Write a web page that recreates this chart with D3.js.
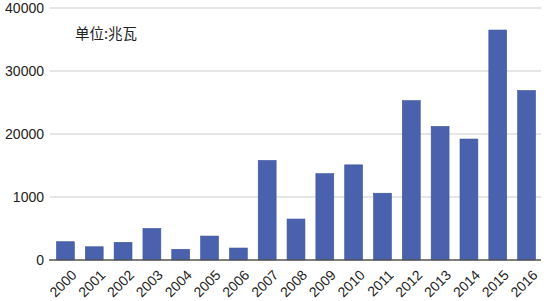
<!DOCTYPE html>
<html>
<head>
<meta charset="utf-8">
<script src="https://cdn.jsdelivr.net/npm/d3@7"></script>
<style>
  body { margin: 0; background: #fff; }
  text { font-family: "Liberation Sans", Arial, sans-serif; fill: #222; }
</style>
</head>
<body>
<svg width="550" height="301"></svg>
<script>
// years and installed capacity (MW)
var years = ["2000","2001","2002","2003","2004","2005","2006","2007","2008",
             "2009","2010","2011","2012","2013","2014","2015","2016"];
var capacity = [2900, 2100, 2800, 5000, 1700, 3800, 1900, 15800, 6500,
                13700, 15100, 10600, 25300, 21200, 19200, 36500, 26900];
var tickValues = [0, 10000, 20000, 30000, 40000];
var tickLabels = ["0", "1000", "20000", "30000", "40000"];
var unitLabel = "单位:兆瓦";

var svg = d3.select("svg"),
    margin = {top: 8, right: 9, bottom: 41, left: 51},
    width = svg.attr("width") - margin.left - margin.right,
    height = svg.attr("height") - margin.top - margin.bottom,
    g = svg.append("g").attr("transform", "translate(" + margin.left + "," + margin.top + ")");

var x = d3.scaleBand().domain(years).range([0, width]).paddingInner(0.38).paddingOuter(0.19),
    y = d3.scaleLinear().domain([0, 40000]).range([height, 0]);

//gridlines
g.selectAll(".grid")
    .data(tickValues.slice(1))
    .enter().append("line")
    .attr("x1", -1).attr("x2", width)
    .attr("y1", function(d) { return y(d); })
    .attr("y2", function(d) { return y(d); })
    .attr("stroke", "#dcdcdc")
    .attr("stroke-width", 1.3);

//y axis labels
var yAxis = g.append("g")
    .call(d3.axisLeft(y).tickValues(tickValues).tickSize(0).tickPadding(7)
      .tickFormat(function(d, i) { return tickLabels[i]; }));
yAxis.select(".domain").remove();
yAxis.selectAll("text").style("font-size", "14px").attr("fill", "#222");

//bars
g.selectAll(".bar")
    .data(capacity)
    .enter().append("rect")
    .attr("x", function(d, i) { return x(years[i]); })
    .attr("y", function(d) { return y(d); })
    .attr("width", x.bandwidth())
    .attr("height", function(d) { return height - y(d); })
    .attr("fill", "#4a61ad")
    .attr("stroke", "#3d5298")
    .attr("stroke-width", 0.6);

//baseline
g.append("line")
    .attr("x1", -2).attr("x2", width)
    .attr("y1", y(0)).attr("y2", y(0))
    .attr("stroke", "#555")
    .attr("stroke-width", 1.3);

//x axis labels
var xAxis = g.append("g")
    .attr("transform", "translate(0," + height + ")")
    .call(d3.axisBottom(x).tickSize(0).tickPadding(0));
xAxis.select(".domain").remove();
xAxis.selectAll("text")
    .style("font-size", "14px")
    .attr("fill", "#222")
    .attr("text-anchor", "end")
    .attr("dy", "0")
    .attr("transform", "translate(12,16) rotate(-45)");

//unit label
svg.append("text")
    .attr("x", 75)
    .attr("y", 39)
    .style("font-size", "14.5px")
    .style("font-family", "'Noto Sans CJK SC', sans-serif")
    .text(unitLabel);
</script>
</body>
</html>
